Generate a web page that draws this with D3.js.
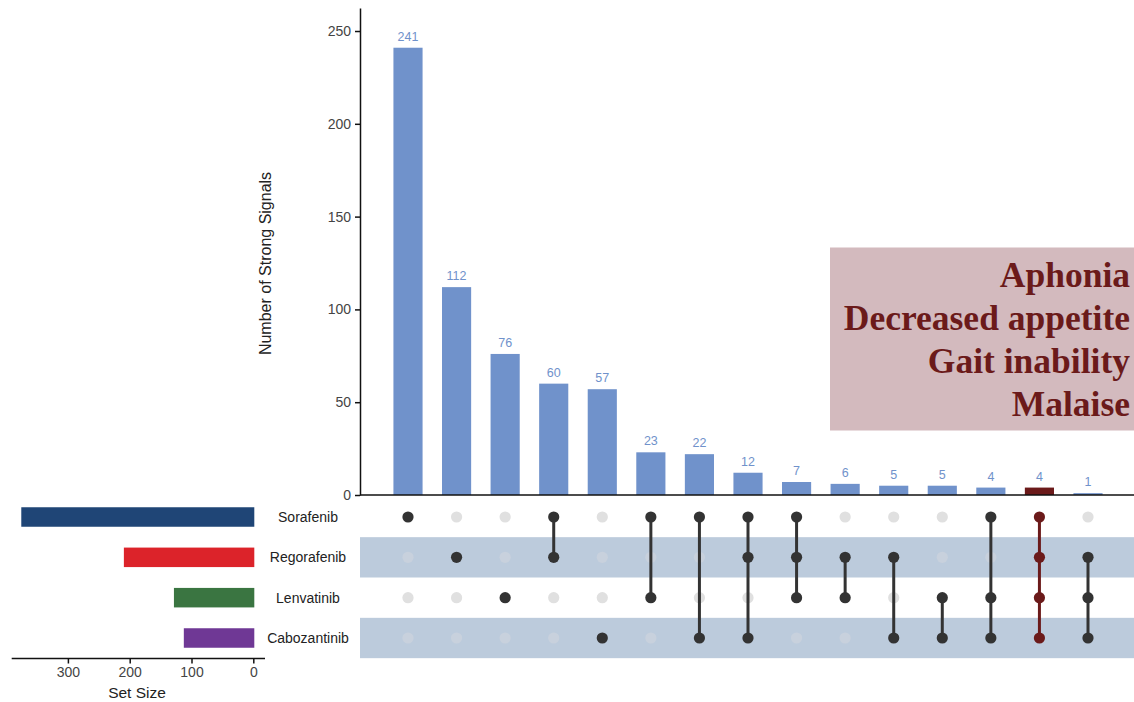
<!DOCTYPE html>
<html>
<head>
<meta charset="utf-8">
<script src="https://cdn.jsdelivr.net/npm/d3@7"></script>
<style>
  html, body { margin: 0; padding: 0; background: #fff; }
  svg { display: block; font-family: "Liberation Sans", Arial, sans-serif; }
</style>
</head>
<body>
<svg id="chart" width="1134" height="702"></svg>
<script>
// Drug sets (rows of the membership matrix)
const sets = ["Sorafenib", "Regorafenib", "Lenvatinib", "Cabozantinib"];
const setColors = ["#1f4576", "#dc232a", "#3a7541", "#6f3895"];

// Intersection sizes, in display order
const counts = [241, 112, 76, 60, 57, 23, 22, 12, 7, 6, 5, 5, 4, 4, 1];

// Membership of each intersection (indices into sets)
const members = [
  [0], [1], [2], [0, 1], [3], [0, 2], [0, 3], [0, 1, 3],
  [0, 1, 2], [1, 2], [1, 3], [2, 3], [0, 2, 3], [0, 1, 2, 3], [1, 2, 3]
];

// Intersection that is highlighted together with the signal list
const highlightIndex = 13;
const highlightTerms = ["Aphonia", "Decreased appetite", "Gait inability", "Malaise"];

// Set size = sum of intersections containing the set
const setSizes = sets.map((_, s) =>
  d3.sum(counts.filter((c, i) => members[i].includes(s))));

const yTicks = [0, 50, 100, 150, 200, 250];
const sizeTicks = [0, 100, 200, 300];

const svg = d3.select("#chart");

const barColor = "#7092cb";
const hiColor = "#6b1a1a";
const dotDark = "#333333";

// Layout
const matrixLeft = 360, matrixRight = 1134;
const barBase = 495, barTop = 8;
const rowY = d3.scalePoint().domain(d3.range(sets.length)).range([517, 638]);
const rowStep = rowY.step();
const colX = d3.scalePoint().domain(d3.range(counts.length)).range([408, 1088]);
const barW = colX.step() * 0.6;

// --- Intersection bars ---
const y = d3.scaleLinear().domain([0, 262.4]).range([barBase, barTop]);

svg.append("g")
  .selectAll("rect")
  .data(counts)
  .join("rect")
  .attr("x", (d, i) => colX(i) - barW / 2)
  .attr("y", d => y(d))
  .attr("width", barW)
  .attr("height", d => y(0) - y(d))
  .attr("fill", (d, i) => i === highlightIndex ? hiColor : barColor);

svg.append("g")
  .selectAll("text")
  .data(counts)
  .join("text")
  .attr("x", (d, i) => colX(i))
  .attr("y", d => y(d) - 7)
  .attr("text-anchor", "middle")
  .attr("font-size", 12.5)
  .attr("fill", barColor)
  .text(d => d);

const yAxis = svg.append("g")
  .attr("transform", `translate(${matrixLeft},0)`)
  .call(d3.axisLeft(y).tickValues(yTicks).tickSize(5).tickSizeOuter(0));
yAxis.select(".domain").attr("stroke", "#111").attr("stroke-width", 1.5);
yAxis.selectAll(".tick line").attr("stroke", "#111").attr("stroke-width", 1.5);
yAxis.selectAll(".tick text")
  .attr("font-size", 14).attr("fill", "#444").attr("x", -9)
  .attr("font-family", "Liberation Sans, Arial, sans-serif");

// Baseline across the matrix width
svg.append("line")
  .attr("x1", matrixLeft).attr("x2", matrixRight)
  .attr("y1", barBase).attr("y2", barBase)
  .attr("stroke", "#111").attr("stroke-width", 1.5);

svg.append("text")
  .attr("transform", `translate(271,${(barTop + barBase) / 2 + 12}) rotate(-90)`)
  .attr("text-anchor", "middle")
  .attr("font-size", 16)
  .attr("fill", "#222")
  .text("Number of Strong Signals");

// --- Matrix shading bands ---
svg.append("g")
  .selectAll("rect")
  .data(sets.map((s, i) => i).filter(i => i % 2 === 1))
  .join("rect")
  .attr("x", matrixLeft)
  .attr("y", i => rowY(i) - rowStep / 2)
  .attr("width", matrixRight - matrixLeft)
  .attr("height", rowStep)
  .attr("fill", "#bccbdc");

// Inactive dots
const cells = [];
counts.forEach((c, i) => sets.forEach((s, r) => {
  cells.push({ col: i, row: r, on: members[i].includes(r) });
}));

svg.append("g")
  .selectAll("circle")
  .data(cells.filter(d => !d.on))
  .join("circle")
  .attr("cx", d => colX(d.col))
  .attr("cy", d => rowY(d.row))
  .attr("r", 5.6)
  .attr("fill", d => d.row % 2 === 1 ? "#c8d1dd" : "#e0e0e0");

// Connecting lines
svg.append("g")
  .selectAll("line")
  .data(members.map((m, i) => ({ col: i, m })).filter(d => d.m.length > 1))
  .join("line")
  .attr("x1", d => colX(d.col)).attr("x2", d => colX(d.col))
  .attr("y1", d => rowY(d3.min(d.m))).attr("y2", d => rowY(d3.max(d.m)))
  .attr("stroke", d => d.col === highlightIndex ? hiColor : dotDark)
  .attr("stroke-width", 3);

// Active dots
svg.append("g")
  .selectAll("circle")
  .data(cells.filter(d => d.on))
  .join("circle")
  .attr("cx", d => colX(d.col))
  .attr("cy", d => rowY(d.row))
  .attr("r", 5.6)
  .attr("fill", d => d.col === highlightIndex ? hiColor : dotDark);

// --- Set labels ---
svg.append("g")
  .selectAll("text")
  .data(sets)
  .join("text")
  .attr("x", 308)
  .attr("y", (d, i) => rowY(i) + 5)
  .attr("text-anchor", "middle")
  .attr("font-size", 14)
  .attr("fill", "#222")
  .text(d => d);

// --- Set size bars ---
const sx = d3.scaleLinear().domain([0, 300]).range([253.3, 67.9]);
const setBarH = 19.5;

svg.append("g")
  .selectAll("rect")
  .data(setSizes)
  .join("rect")
  .attr("x", d => sx(d) - 1.5)
  .attr("y", (d, i) => rowY(i) - setBarH / 2)
  .attr("width", d => sx(0) - sx(d) + 2.5)
  .attr("height", setBarH)
  .attr("fill", (d, i) => setColors[i]);

const sAxis = svg.append("g")
  .attr("transform", "translate(0,658.5)")
  .call(d3.axisBottom(sx).tickValues(sizeTicks).tickSize(5).tickSizeOuter(0));
sAxis.select(".domain").attr("d", "M11.7,0H265").attr("stroke", "#111").attr("stroke-width", 1.5);
sAxis.selectAll(".tick line").attr("stroke", "#111").attr("stroke-width", 1.5);
sAxis.selectAll(".tick text")
  .attr("font-size", 14).attr("fill", "#444").attr("y", 9)
  .attr("font-family", "Liberation Sans, Arial, sans-serif");

svg.append("text")
  .attr("x", 137).attr("y", 698)
  .attr("text-anchor", "middle")
  .attr("font-size", 15.5)
  .attr("fill", "#222")
  .text("Set Size");

// --- Signal list for the highlighted intersection ---
svg.append("rect")
  .attr("x", 830).attr("y", 247.5)
  .attr("width", 304).attr("height", 183)
  .attr("fill", "#d3babe");

svg.append("g")
  .selectAll("text")
  .data(highlightTerms)
  .join("text")
  .attr("x", 1130)
  .attr("y", (d, i) => 287 + i * 43)
  .attr("text-anchor", "end")
  .attr("font-family", "Liberation Serif, 'Times New Roman', serif")
  .attr("font-weight", "bold")
  .attr("font-size", 35.5)
  .attr("fill", hiColor)
  .text(d => d);
</script>
</body>
</html>
